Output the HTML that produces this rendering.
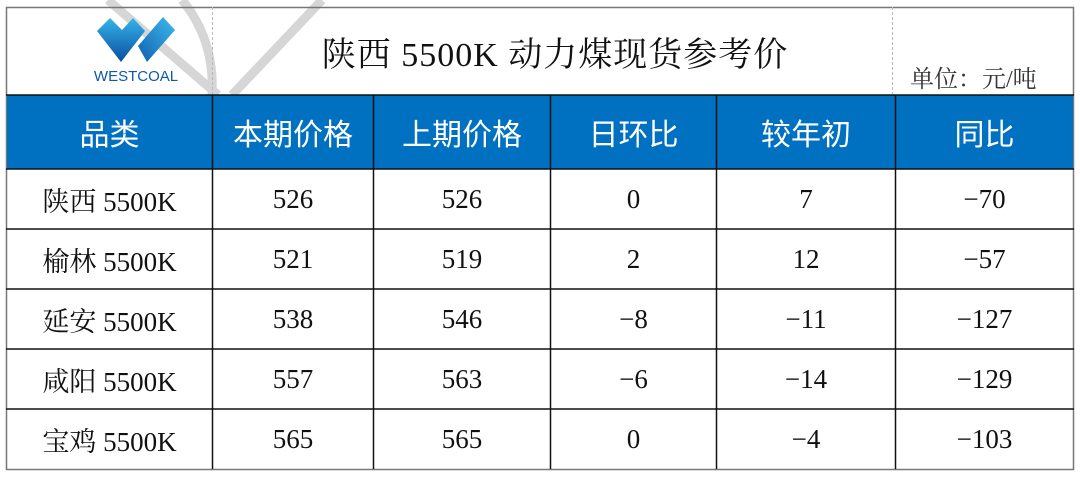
<!DOCTYPE html>
<html><head><meta charset="utf-8"><style>
body{margin:0;width:1080px;height:478px;background:#fff;position:relative;overflow:hidden}
.a{position:absolute}
.s{font-family:"Liberation Serif","Noto Serif CJK SC",serif;color:#111}
.h{font-family:"Liberation Sans","Noto Sans CJK SC",sans-serif;color:#fff;font-size:30px}
.c{position:absolute;display:flex;align-items:center;justify-content:center}
</style></head><body>
<svg class="a" style="left:0;top:0" width="1080" height="478">
<defs><linearGradient id="g" x1="0" y1="0" x2="0" y2="1"><stop offset="0" stop-color="#35b3e8"/><stop offset="1" stop-color="#0a4ea0"/></linearGradient>
<linearGradient id="g2" x1="1" y1="0" x2="0" y2="1"><stop offset="0" stop-color="#3dbbec"/><stop offset="1" stop-color="#1160b0"/></linearGradient></defs>
<g stroke="#d6d6d6" stroke-width="9" fill="none">
<line x1="108" y1="0" x2="218" y2="95"/>
<line x1="322" y1="0" x2="232" y2="95"/>
<path d="M182 0 Q215 40 212 95"/>
</g>
<polygon points="97,31 110,18 122,30 133,18 145,31 121,62" fill="url(#g)"/>
<polygon points="138,46 163,17 175,30 147,62" fill="url(#g2)"/>
<text x="136" y="81" text-anchor="middle" font-family="Liberation Sans,sans-serif" font-size="15" fill="#0d5aa8">WESTCOAL</text>
<rect x="6.5" y="7.5" width="1067" height="462" fill="none" stroke="#777" stroke-width="1.5"/>
<line x1="212.5" y1="7" x2="212.5" y2="95" stroke="#bbb" stroke-dasharray="3,2"/>
<line x1="892.5" y1="7" x2="892.5" y2="95" stroke="#bbb" stroke-dasharray="3,2"/>
<rect x="7" y="95" width="1066" height="74" fill="#0070c0"/>
<g stroke="#111" stroke-width="1.5">
<line x1="6" y1="95" x2="1074" y2="95"/>
<line x1="6" y1="169" x2="1074" y2="169"/>
<line x1="6" y1="229" x2="1074" y2="229"/>
<line x1="6" y1="289" x2="1074" y2="289"/>
<line x1="6" y1="349" x2="1074" y2="349"/>
<line x1="6" y1="409" x2="1074" y2="409"/>
<line x1="212.5" y1="95" x2="212.5" y2="469"/>
<line x1="373.5" y1="95" x2="373.5" y2="469"/>
<line x1="550.5" y1="95" x2="550.5" y2="469"/>
<line x1="716.5" y1="95" x2="716.5" y2="469"/>
<line x1="895.5" y1="95" x2="895.5" y2="469"/>
</g>
</svg>
<div class="a s" style="left:290px;top:27px;width:530px;text-align:center;font-size:34px;letter-spacing:1px">陕西 5500K 动力煤现货参考价</div>
<div class="a s" style="left:910px;top:59px;font-size:24px;color:#333;white-space:nowrap">单位：元/吨</div>
<div class="c h" style="left:7px;top:95px;width:205px;height:74px">品类</div>
<div class="c h" style="left:213px;top:95px;width:160px;height:74px">本期价格</div>
<div class="c h" style="left:374px;top:95px;width:176px;height:74px">上期价格</div>
<div class="c h" style="left:551px;top:95px;width:165px;height:74px">日环比</div>
<div class="c h" style="left:717px;top:95px;width:178px;height:74px">较年初</div>
<div class="c h" style="left:896px;top:95px;width:177px;height:74px">同比</div>
<div id="rows"></div>
<script>
var d=[["陕西 5500K","526","526","0","7","-70"],["榆林 5500K","521","519","2","12","-57"],["延安 5500K","538","546","-8","-11","-127"],["咸阳 5500K","557","563","-6","-14","-129"],["宝鸡 5500K","565","565","0","-4","-103"]];
var xs=[[7,205],[213,160],[374,176],[551,165],[717,178],[896,177]],h="";
d.forEach(function(r,i){r.forEach(function(t,j){h+='<div class="c s" style="left:'+xs[j][0]+'px;top:'+(169+i*60)+'px;width:'+xs[j][1]+'px;height:60px;font-size:27px">'+t.replace("-","−")+'</div>';});});
document.getElementById("rows").innerHTML=h;
</script>
</body></html>
